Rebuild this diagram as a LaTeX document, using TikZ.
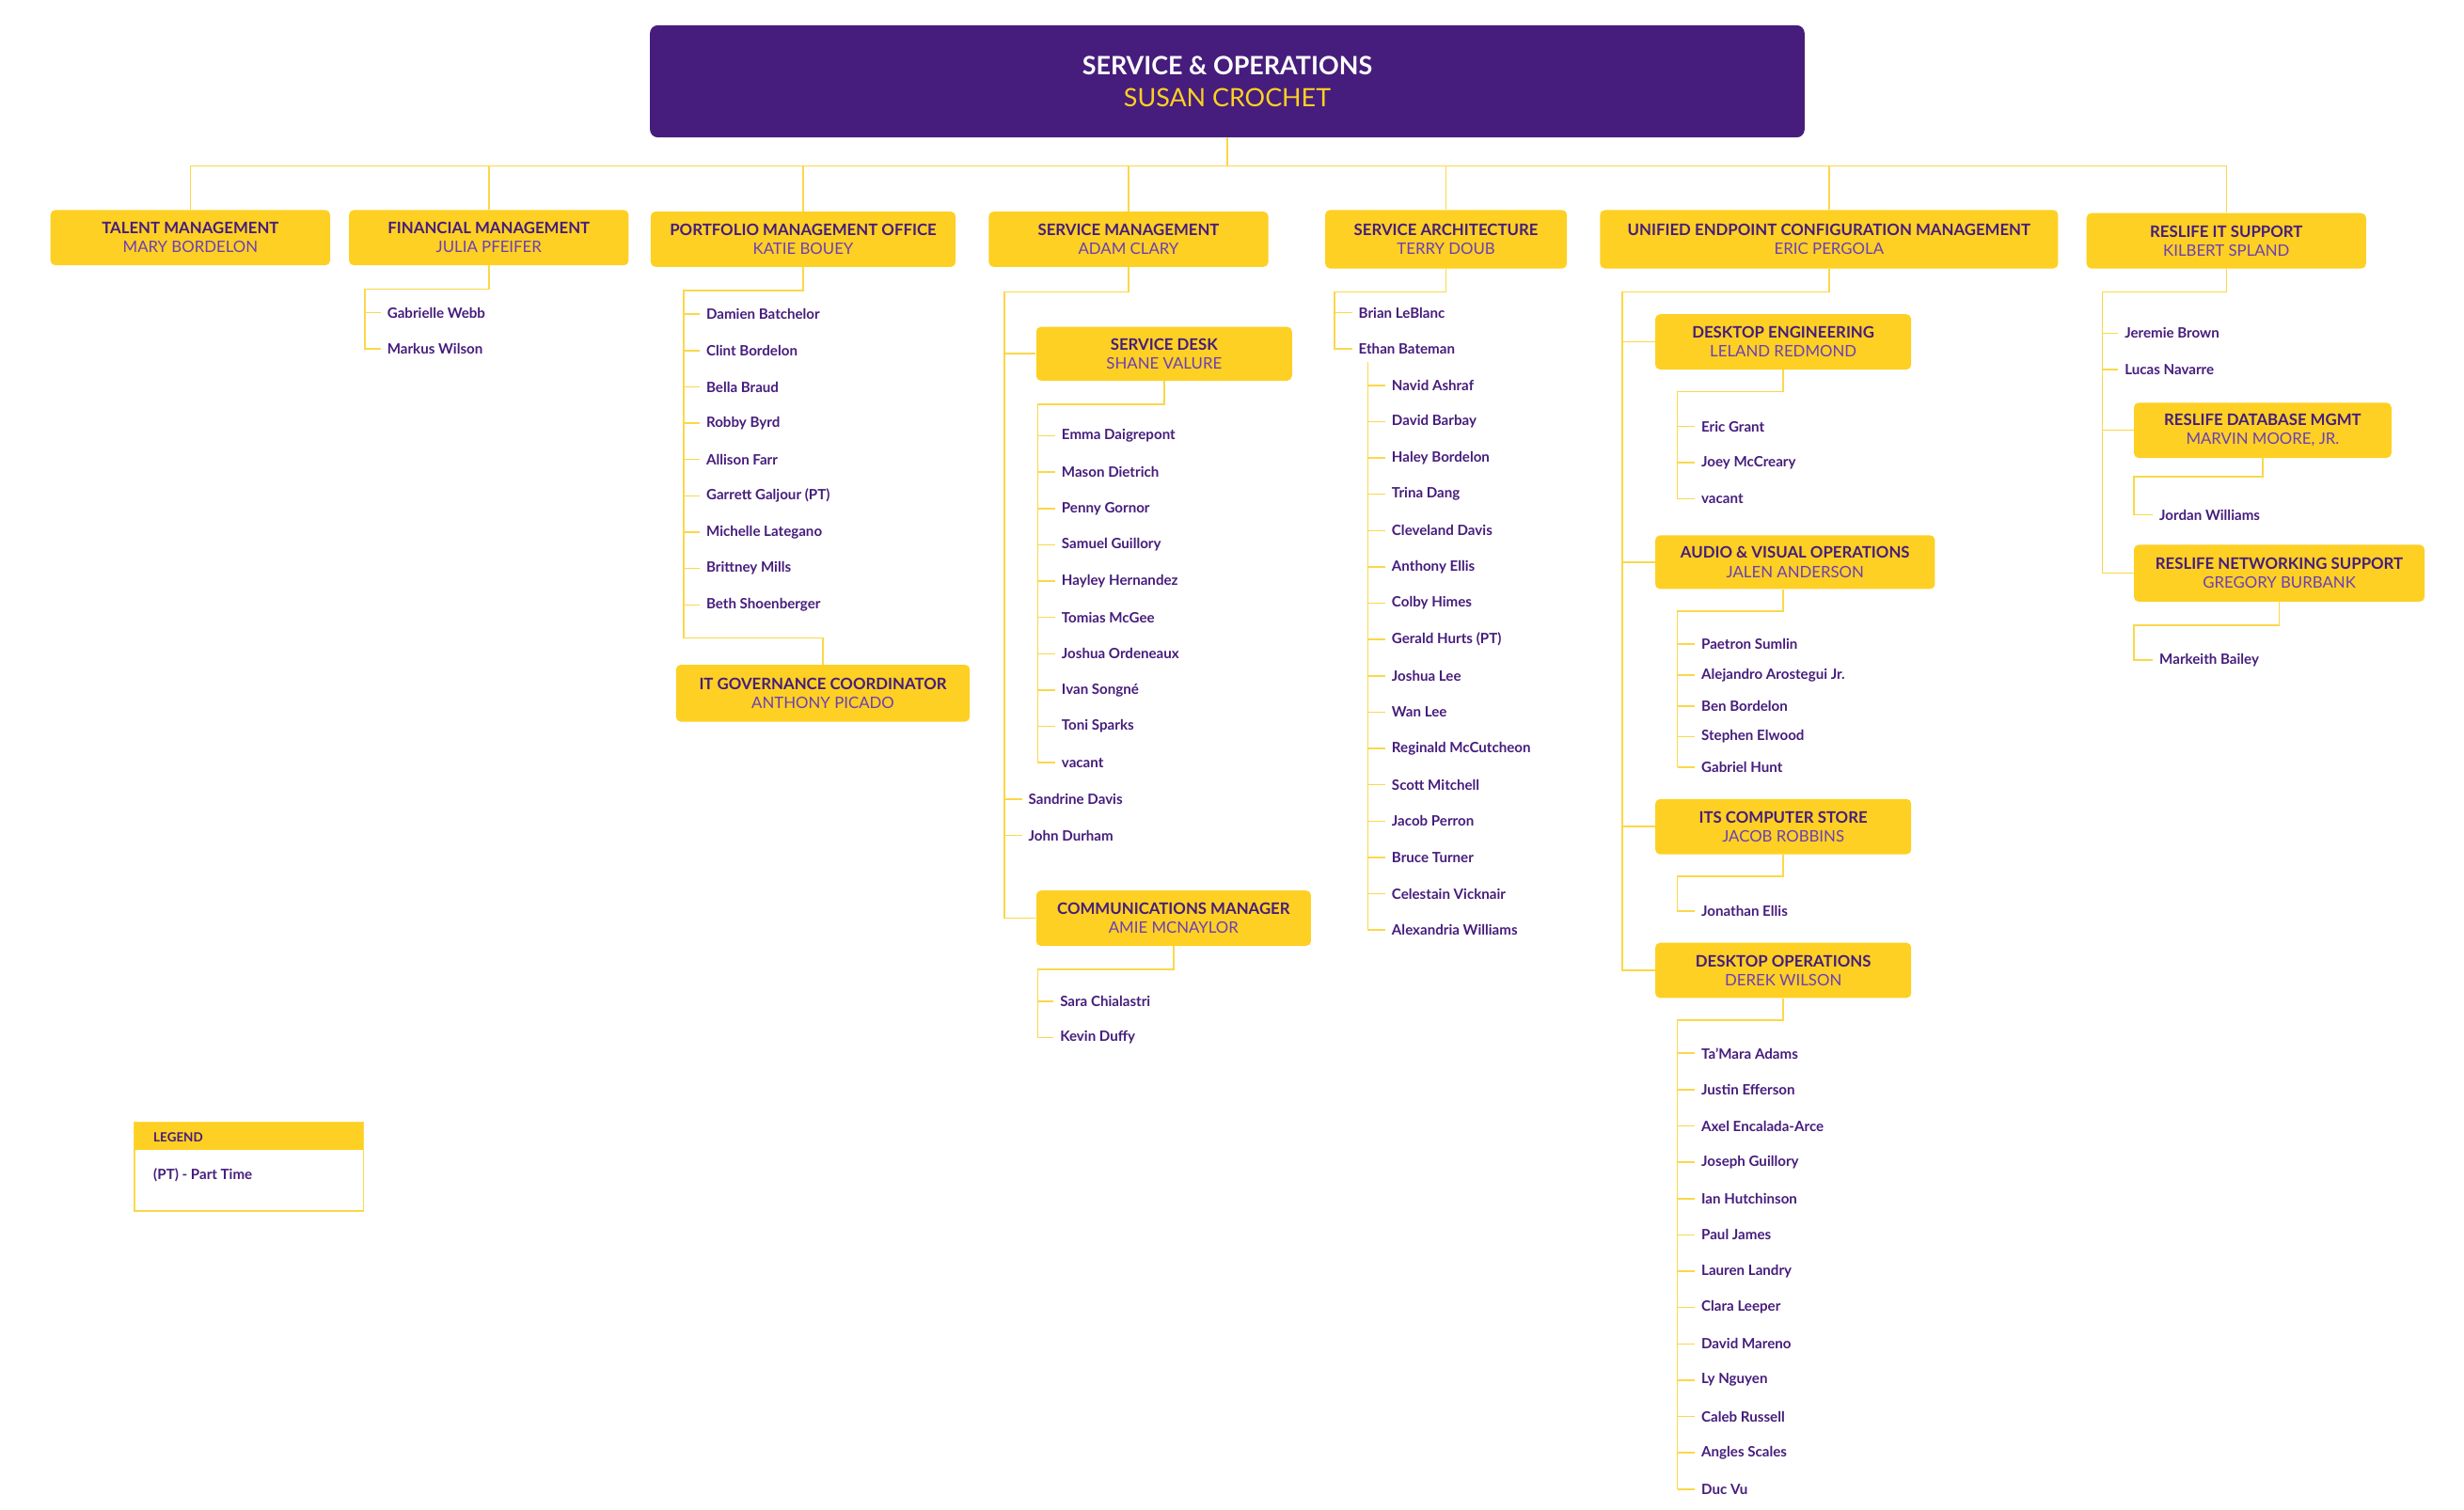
\documentclass[tikz,border=0pt]{standalone}
\usepackage{fontspec}
\setmainfont{Lato}
\usepackage{xcolor}
\definecolor{lsupurple}{HTML}{461D7C}
\definecolor{lsugold}{HTML}{FDD023}
\definecolor{softpurple}{HTML}{6B3FB5}
\definecolor{linegold}{HTML}{FBD74A}
\tikzset{
    box/.style={fill=lsugold,rounded corners=3pt,align=center,inner sep=0pt,
        font=\fontsize{10}{13}\selectfont\bfseries,text=lsupurple},
    nm/.style={anchor=west,inner sep=2pt,text=lsupurple,
        font=\fontsize{9}{10}\selectfont\bfseries},
    ln/.style={draw=linegold,line width=0.9pt},
}
\newcommand{\who}[1]{\\[-1pt]{\mdseries\color{softpurple}#1}}
\begin{document}
\begin{tikzpicture}[x=1pt,y=-1pt]
    \useasboundingbox (0,0) rectangle (1560,956);
    % head
    \node[fill=lsupurple,rounded corners=5pt,minimum width=731,minimum height=71,align=center,
        font=\fontsize{16}{22}\selectfont\bfseries,text=white] (head) at (777,51.5)
        {SERVICE \& OPERATIONS\\[-2pt]{\mdseries\color{lsugold}SUSAN CROCHET}};
    % departments
    \node[box,minimum width=177,minimum height=35] (talent) at (120.5,150.5) {TALENT MANAGEMENT\who{MARY BORDELON}};
    \node[box,minimum width=177,minimum height=35] (fin) at (309.5,150.5) {FINANCIAL MANAGEMENT\who{JULIA PFEIFER}};
    \node[box,minimum width=193,minimum height=35] (pmo) at (508.5,151.5) {PORTFOLIO MANAGEMENT OFFICE\who{KATIE BOUEY}};
    \node[box,minimum width=177,minimum height=35] (smgmt) at (714.5,151.5) {SERVICE MANAGEMENT\who{ADAM CLARY}};
    \node[box,minimum width=153,minimum height=37] (sarch) at (915.5,151.5) {SERVICE ARCHITECTURE\who{TERRY DOUB}};
    \node[box,minimum width=290,minimum height=37] (uecm) at (1158,151.5) {UNIFIED ENDPOINT CONFIGURATION MANAGEMENT\who{ERIC PERGOLA}};
    \node[box,minimum width=177,minimum height=35] (reslife) at (1409.5,152.5) {RESLIFE IT SUPPORT\who{KILBERT SPLAND}};
    % trunk
    \coordinate (bus) at (777,105);
    \draw[ln] (head.south) -- (bus);
    \draw[ln] (talent.north) |- (bus);
    \draw[ln] (reslife.north) |- (bus);
    \foreach \d in {fin,pmo,smgmt,sarch,uecm}
        \draw[ln] (\d.north) -- (\d.north |- bus);

    % financial
    \foreach \n [count=\i] in {Gabrielle Webb,Markus Wilson}
        \node[nm] (fin\i) at (243,175+23*\i) {\n};
    \coordinate (finsp) at (231,183);
    \draw[ln] (fin.south) |- (finsp) |- ([xshift=-2pt]fin2.west);
    \draw[ln] ([xshift=-2pt]fin1.west) -- (fin1.west -| finsp);

    % portfolio
    \foreach \n [count=\i] in {Damien Batchelor,Clint Bordelon,Bella Braud,Robby Byrd,Allison Farr,
        Garrett Galjour (PT),Michelle Lategano,Brittney Mills,Beth Shoenberger}
        {\node[nm] (pmo\i) at (445,176+23*\i) {\n};
         \draw[ln] ([xshift=-2pt]pmo\i.west) -- ++(-10,0);}
    \node[box,minimum width=186,minimum height=36] (itgov) at (521,439) {IT GOVERNANCE COORDINATOR\who{ANTHONY PICADO}};
    \coordinate (pmosp) at (433,184);
    \coordinate (pmoend) at (433,404);
    \draw[ln] (pmo.south) |- (pmosp) -- (pmoend) -| (itgov.north);

    % service management
    \node[box,minimum width=162,minimum height=34] (sdesk) at (737,224) {SERVICE DESK\who{SHANE VALURE}};
    \node[box,minimum width=174,minimum height=35] (comms) at (743,581.5) {COMMUNICATIONS MANAGER\who{AMIE MCNAYLOR}};
    \coordinate (smsp) at (636,185);
    \draw[ln] (smgmt.south) |- (smsp) |- (comms.west);
    \draw[ln] (sdesk.west) -- (sdesk.west -| smsp);
    \foreach \n [count=\i] in {Sandrine Davis,John Durham}
        {\node[nm] (sm\i) at (649,483+23*\i) {\n};
         \draw[ln] ([xshift=-2pt]sm\i.west) -- (sm\i.west -| smsp);}
    \foreach \n [count=\i] in {Emma Daigrepont,Mason Dietrich,Penny Gornor,Samuel Guillory,Hayley Hernandez,
        Tomias McGee,Joshua Ordeneaux,Ivan Songné,Toni Sparks,vacant}
        {\node[nm] (sd\i) at (670,253+23*\i) {\n};
         \draw[ln] ([xshift=-2pt]sd\i.west) -- ++(-11,0);}
    \coordinate (sdsp) at (657,256);
    \draw[ln] (sdesk.south) |- (sdsp) -- (sdsp |- sd10.west);
    \foreach \n [count=\i] in {Sara Chialastri,Kevin Duffy}
        \node[nm] (cm\i) at (669,611+23*\i) {\n};
    \coordinate (cmsp) at (657,614);
    \draw[ln] (comms.south) |- (cmsp) |- ([xshift=-2pt]cm2.west);
    \draw[ln] ([xshift=-2pt]cm1.west) -- (cm1.west -| cmsp);

    % service architecture
    \foreach \n [count=\i] in {Brian LeBlanc,Ethan Bateman}
        \node[nm] (sa\i) at (858,175+23*\i) {\n};
    \coordinate (sasp) at (845,185);
    \draw[ln] (sarch.south) |- (sasp) |- ([xshift=-2pt]sa2.west);
    \draw[ln] ([xshift=-2pt]sa1.west) -- (sa1.west -| sasp);
    \foreach \n [count=\i] in {Navid Ashraf,David Barbay,Haley Bordelon,Trina Dang,Cleveland Davis,
        Anthony Ellis,Colby Himes,Gerald Hurts (PT),Joshua Lee,Wan Lee,Reginald McCutcheon,
        Scott Mitchell,Jacob Perron,Bruce Turner,Celestain Vicknair,Alexandria Williams}
        {\node[nm] (eb\i) at (879,221+23*\i) {\n};
         \draw[ln] ([xshift=-2pt]eb\i.west) -- ++(-11,0);}
    \coordinate (ebsp) at (866,229);
    \draw[ln] (ebsp) -- (ebsp |- eb16.west);

    % unified endpoint
    \node[box,minimum width=162,minimum height=35] (deng) at (1129,216.5) {DESKTOP ENGINEERING\who{LELAND REDMOND}};
    \node[box,minimum width=177,minimum height=34] (avops) at (1136.5,356) {AUDIO \& VISUAL OPERATIONS\who{JALEN ANDERSON}};
    \node[box,minimum width=162,minimum height=35] (store) at (1129,523.5) {ITS COMPUTER STORE\who{JACOB ROBBINS}};
    \node[box,minimum width=162,minimum height=35] (dops) at (1129,614.5) {DESKTOP OPERATIONS\who{DEREK WILSON}};
    \coordinate (uesp) at (1027,185);
    \draw[ln] (uecm.south) |- (uesp) |- (dops.west);
    \foreach \b in {deng,avops,store}
        \draw[ln] (\b.west) -- (\b.west -| uesp);
    \coordinate (desp) at (1062,248);
    \coordinate (avsp) at (1062,387);
    \coordinate (stsp) at (1062,555);
    \coordinate (dosp) at (1062,646);
    \foreach \n [count=\i] in {Eric Grant,Joey McCreary,vacant}
        {\node[nm] (de\i) at (1075,247+23*\i) {\n};
         \draw[ln] ([xshift=-2pt]de\i.west) -- (de\i.west -| desp);}
    \draw[ln] (deng.south) |- (desp) -- (desp |- de3.west);
    \foreach \n [count=\i] in {Paetron Sumlin,Alejandro Arostegui Jr.,Ben Bordelon,Stephen Elwood,Gabriel Hunt}
        {\node[nm] (av\i) at (1075,388.5+19.5*\i) {\n};
         \draw[ln] ([xshift=-2pt]av\i.west) -- (av\i.west -| avsp);}
    \draw[ln] (avops.south -| deng.south) |- (avsp) -- (avsp |- av5.west);
    \node[nm] (st1) at (1075,577) {Jonathan Ellis};
    \draw[ln] (store.south) |- (stsp) |- ([xshift=-2pt]st1.west);
    \foreach \n [count=\i] in {Ta'Mara Adams,Justin Efferson,Axel Encalada-Arce,Joseph Guillory,Ian Hutchinson,
        Paul James,Lauren Landry,Clara Leeper,David Mareno,Ly Nguyen,Caleb Russell,Angles Scales,Duc Vu}
        {\node[nm] (do\i) at (1075,644+23*\i) {\n};
         \draw[ln] ([xshift=-2pt]do\i.west) -- (do\i.west -| dosp);}
    \draw[ln] (dops.south) |- (dosp) -- (dosp |- do13.west);

    % reslife
    \node[box,minimum width=163,minimum height=35] (rdb) at (1432.5,272.5) {RESLIFE DATABASE MGMT\who{MARVIN MOORE, JR.}};
    \node[box,minimum width=184,minimum height=36] (rnet) at (1443,363) {RESLIFE NETWORKING SUPPORT\who{GREGORY BURBANK}};
    \coordinate (rlsp) at (1331,185);
    \draw[ln] (reslife.south) |- (rlsp) |- (rnet.west);
    \draw[ln] (rdb.west) -- (rdb.west -| rlsp);
    \foreach \n [count=\i] in {Jeremie Brown,Lucas Navarre}
        {\node[nm] (rl\i) at (1343,188+23*\i) {\n};
         \draw[ln] ([xshift=-2pt]rl\i.west) -- (rl\i.west -| rlsp);}
    \node[nm] (rdb1) at (1365,326) {Jordan Williams};
    \node[nm] (rnet1) at (1365,418) {Markeith Bailey};
    \coordinate (rdbsp) at (1351,302);
    \coordinate (rnetsp) at (1351,396);
    \draw[ln] (rdb.south) |- (rdbsp) |- ([xshift=-2pt]rdb1.west);
    \draw[ln] (rnet.south) |- (rnetsp) |- ([xshift=-2pt]rnet1.west);

    % legend
    \draw[ln] (85,711) rectangle (230,767);
    \fill[lsugold] (85,711) rectangle (230,728);
    \node[nm,font=\fontsize{8}{9}\selectfont\bfseries] (leg) at (95,720) {LEGEND};
    \node[nm] (legpt) at (95,744) {(PT) - Part Time};
\end{tikzpicture}
\end{document}
